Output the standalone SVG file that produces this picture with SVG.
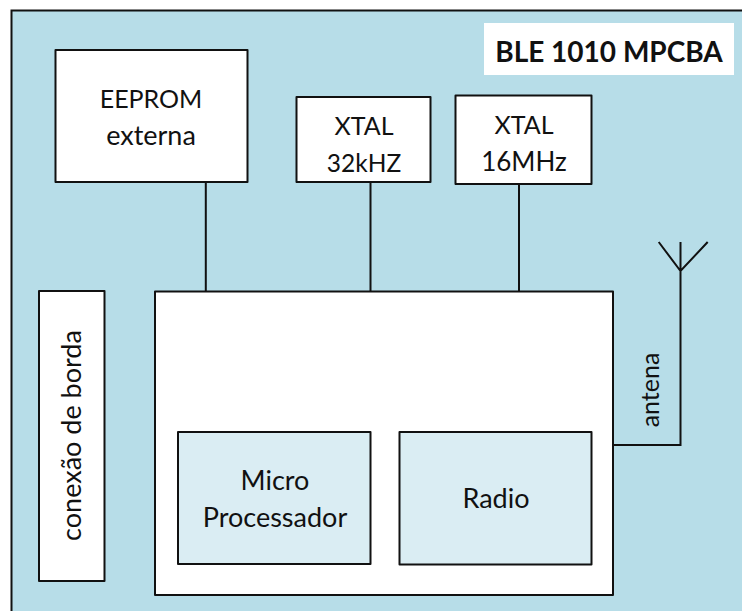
<svg xmlns="http://www.w3.org/2000/svg" width="742" height="611" viewBox="0 0 742 611">
<style>
.b{stroke:#111;stroke-width:2;stroke-linejoin:round}
.w{fill:#fff}
.l{fill:#daedf3}
.c{fill:none;stroke:#111;stroke-width:2}
text{font-family:"Lato","Liberation Sans",sans-serif;font-size:27px;fill:#111;text-anchor:middle}
</style>
<rect width="742" height="611" fill="#fff"/>
<g id="board"><path d="M742 10.500H11.500V611H742Z" fill="#b7dde8"/><path d="M742 10.500H11.500V611" class="c"/></g>
<g id="title"><rect x="484" y="23" width="250" height="52" fill="#fff"/><text x="609" y="62" style="font-weight:700;font-size:28px">BLE 1010 MPCBA</text></g>
<g id="connectors">
<path class="c" d="M205.800 183V292M370.500 183V292M519 184V292"/>
<path class="c" d="M613 445H680.500V242M658.700 242L680.500 271L707.700 242"/>
</g>
<g id="eeprom"><rect class="b w" x="55.500" y="50" width="192" height="132"/><text x="151" y="108" style="font-size:25px">EEPROM</text><text x="151" y="145">externa</text></g>
<g id="xtal32"><rect class="b w" x="296.500" y="97" width="134" height="85"/><text x="364" y="135" style="font-size:25px">XTAL</text><text x="364" y="172" style="font-size:24.500px">32kHZ</text></g>
<g id="xtal16"><rect class="b w" x="455.500" y="95.500" width="136" height="88.500"/><text x="524" y="134" style="font-size:25px">XTAL</text><text x="524" y="171" style="font-size:26px">16MHz</text></g>
<g id="edge"><rect class="b w" x="39" y="291" width="65.500" height="290"/><text transform="translate(81 435.500) rotate(-90)">conexão de borda</text></g>
<g id="main"><rect class="b w" x="155" y="291.500" width="458" height="303.500"/></g>
<g id="micro"><rect class="b l" x="178" y="432" width="192.500" height="132"/><text x="275" y="490">Micro</text><text x="275" y="527">Processador</text></g>
<g id="radio"><rect class="b l" x="399.500" y="432" width="192" height="132.500"/><text x="496" y="508">Radio</text></g>
<text id="antena" transform="translate(658.500 390) rotate(-90)" style="font-size:25px">antena</text>
</svg>
